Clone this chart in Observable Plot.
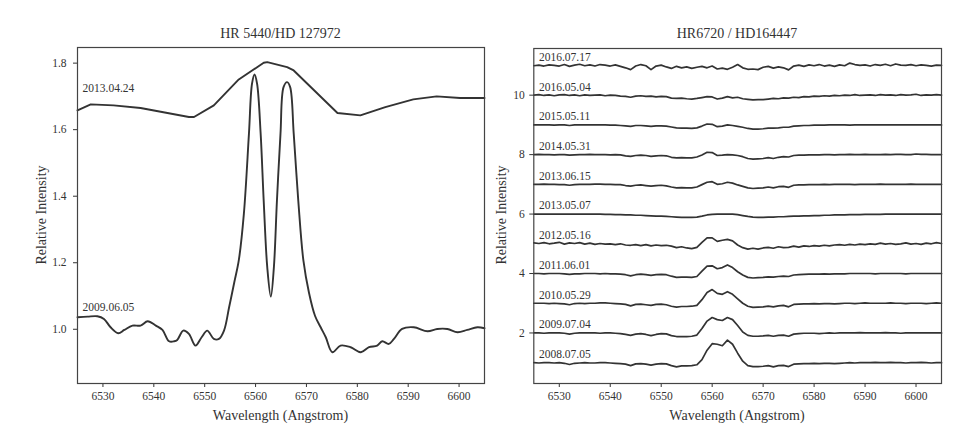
<!DOCTYPE html>
<html><head><meta charset="utf-8">
<script src="https://cdn.jsdelivr.net/npm/d3@7"></script>
<script src="https://cdn.jsdelivr.net/npm/@observablehq/plot@0.6"></script>
<style>
body{margin:0;background:#fff;}
#wrap{position:relative;width:971px;height:442px;font-family:"Liberation Serif","DejaVu Serif",serif;color:#333;}
.abs{position:absolute;white-space:nowrap;line-height:1;}
.panel{position:absolute;top:0;}
</style></head><body><div id="wrap"></div>
<script>
// ---------- shared ----------
const xTicks = [6530, 6540, 6550, 6560, 6570, 6580, 6590, 6600];
const xLabel = "Wavelength (Angstrom)";
const yLabel = "Relative Intensity";

// ---------- left panel: HR 5440 / HD 127972 ----------
const leftTitle = "HR 5440/HD 127972";
const leftYTicks = [1.0, 1.2, 1.4, 1.6, 1.8];
const leftDates = ["2013.04.24", "2009.06.05"];
const leftLabelY = [1.724, 1.065];

const hr5440_20130424_wave = [6525, 6527.6, 6532.1, 6537.4, 6546.9, 6547.9, 6551.8, 6556.7, 6561.6, 6562.3, 6566.2, 6567.5, 6576.1, 6580.6, 6585.5, 6591, 6595.6, 6600.2, 6605];
const hr5440_20130424_flux = [1.658, 1.676, 1.673, 1.665, 1.638, 1.638, 1.673, 1.751, 1.801, 1.803, 1.788, 1.778, 1.650, 1.643, 1.668, 1.691, 1.700, 1.695, 1.695];

const hr5440_20090605_wave = [6525, 6527, 6528.9, 6530.2, 6531.5, 6533, 6534.2, 6535.8, 6537.4, 6538.8, 6540.4, 6541.7, 6543, 6544, 6544.6, 6545.8, 6546.9, 6548.2, 6549.4, 6550.5, 6551.8, 6552.8, 6553.8, 6554.8, 6555.8, 6556.7, 6557.7, 6558.7, 6559.3, 6559.8, 6560.3, 6561.0, 6561.6, 6562.3, 6563.0, 6563.6, 6564.2, 6564.9, 6565.5, 6566.2, 6566.8, 6567.5, 6568.4, 6569.4, 6570.5, 6571.7, 6572.8, 6573.8, 6575.1, 6576.7, 6578.7, 6580.7, 6582.3, 6583.9, 6584.9, 6586.2, 6587.2, 6588.8, 6591.1, 6593.8, 6595.7, 6597.7, 6599.7, 6601.6, 6603.6, 6605];
const hr5440_20090605_flux = [1.036, 1.038, 1.039, 1.031, 1.006, 0.988, 0.998, 1.011, 1.011, 1.024, 1.011, 0.998, 0.964, 0.964, 0.968, 0.996, 0.986, 0.951, 0.976, 0.996, 0.971, 0.971, 0.996, 1.066, 1.140, 1.207, 1.347, 1.588, 1.738, 1.766, 1.738, 1.588, 1.386, 1.186, 1.098, 1.186, 1.386, 1.588, 1.728, 1.743, 1.728, 1.588, 1.386, 1.207, 1.110, 1.040, 1.006, 0.976, 0.931, 0.951, 0.946, 0.931, 0.946, 0.951, 0.964, 0.956, 0.971, 1.001, 1.006, 0.994, 1.001, 1.001, 0.991, 0.998, 1.006, 1.003];

// ---------- right panel: HR6720 / HD164447 ----------
const rightTitle = "HR6720 / HD164447";
const rightYTicks = [2, 4, 6, 8, 10];
const rightWave = [
  6525,6526,6527,6528,6529,6530,6531,6532,6533,6534,
  6535,6536,6537,6538,6539,6540,6541,6542,6543,6544,
  6545,6546,6547,6548,6549,6550,6551,6552,6553,6554,
  6555,6556,6557,6558,6559,6560,6561,6562,6563,6564,
  6565,6566,6567,6568,6569,6570,6571,6572,6573,6574,
  6575,6576,6577,6578,6579,6580,6581,6582,6583,6584,
  6585,6586,6587,6588,6589,6590,6591,6592,6593,6594,
  6595,6596,6597,6598,6599,6600,6601,6602,6603,6604,
  6605];
const rightDates = ["2008.07.05","2009.07.04","2010.05.29","2011.06.01","2012.05.16","2013.05.07","2013.06.15","2014.05.31","2015.05.11","2016.05.04","2016.07.17"];
const rightOffsets = [0,1,2,3,4,5,6,7,8,9,10];

const f20080705 = [
  1.00,0.99,1.00,1.00,0.99,1.00,0.98,0.94,0.98,0.99,
  1.00,0.99,0.99,1.00,1.00,0.99,0.98,0.97,0.95,0.90,
  0.96,0.97,0.95,0.92,0.95,0.97,0.96,0.90,0.86,0.89,
  0.89,0.90,0.93,1.10,1.42,1.64,1.62,1.57,1.76,1.62,
  1.32,1.05,0.90,0.87,0.87,0.88,0.90,0.86,0.90,0.91,
  0.87,0.95,0.96,0.97,0.97,0.98,0.97,0.98,0.98,0.97,
  0.98,0.99,1.00,0.99,1.00,1.00,1.00,1.01,1.00,1.00,
  1.01,1.00,1.00,0.99,1.00,1.00,1.01,1.00,0.99,1.00,
  1.00];
const f20090704 = [
  1.00,1.00,0.99,1.00,1.00,1.00,0.99,0.96,0.99,1.00,
  1.00,1.00,1.00,0.99,1.00,1.00,0.99,0.98,0.95,0.92,
  0.96,0.98,0.95,0.91,0.95,0.98,0.97,0.91,0.88,0.88,
  0.88,0.89,0.93,1.15,1.40,1.52,1.45,1.42,1.52,1.45,
  1.25,1.03,0.92,0.89,0.89,0.90,0.92,0.89,0.92,0.93,
  0.89,0.96,0.98,0.99,0.99,0.99,0.98,0.99,1.00,0.99,
  1.00,1.00,1.00,1.00,1.01,1.00,1.00,1.00,1.00,1.01,
  1.00,1.00,0.99,1.00,1.00,1.00,1.00,1.00,1.00,1.00,
  1.00];
const f20100529 = [
  1.00,1.00,1.00,0.99,1.00,0.99,0.98,0.95,0.99,1.00,
  0.99,1.00,1.00,1.01,1.01,1.00,0.99,0.98,0.96,0.91,
  0.96,0.97,0.95,0.93,0.96,0.97,0.95,0.90,0.87,0.89,
  0.89,0.90,0.93,1.12,1.36,1.46,1.33,1.30,1.39,1.30,
  1.15,1.00,0.90,0.86,0.87,0.88,0.90,0.88,0.91,0.93,
  0.88,0.96,0.97,0.98,0.98,0.99,0.98,0.99,0.99,0.98,
  0.99,1.00,1.00,0.99,1.00,1.01,1.00,1.00,1.00,1.00,
  1.01,1.00,1.00,0.99,1.00,1.00,1.00,0.99,1.00,1.01,
  1.00];
const f20110601 = [
  1.00,1.00,0.99,1.00,1.00,1.00,0.99,0.97,0.99,0.99,
  1.00,1.00,1.00,0.99,1.00,0.99,0.99,0.98,0.96,0.92,
  0.96,0.98,0.96,0.94,0.96,0.97,0.96,0.91,0.87,0.88,
  0.88,0.87,0.90,1.08,1.25,1.26,1.16,1.20,1.29,1.20,
  1.06,0.95,0.87,0.85,0.86,0.87,0.89,0.88,0.90,0.91,
  0.90,0.95,0.96,0.97,0.98,0.98,0.98,0.99,0.98,0.99,
  0.99,0.99,1.00,1.00,1.00,1.00,1.00,0.99,1.00,1.00,
  1.00,1.00,1.00,0.99,1.00,1.00,1.00,1.00,1.00,1.00,
  1.00];
const f20120516 = [
  1.03,1.01,1.04,1.00,1.02,1.05,0.99,1.03,1.01,1.04,
  0.99,1.02,0.98,1.01,0.99,1.00,0.97,1.00,0.96,0.95,
  0.97,0.94,0.97,0.93,0.96,0.94,0.95,0.92,0.87,0.90,
  0.86,0.84,0.88,1.05,1.20,1.20,1.08,1.12,1.15,1.10,
  0.96,0.87,0.82,0.85,0.82,0.86,0.88,0.85,0.90,0.87,
  0.88,0.92,0.89,0.93,0.91,0.94,0.92,0.95,0.93,0.96,
  0.97,0.95,0.98,0.96,0.99,0.97,1.00,0.98,1.02,0.99,
  1.01,0.98,1.00,1.03,0.99,1.01,0.98,1.02,1.00,1.04,
  1.01];
const f20130507 = [
  1.00,1.00,1.00,1.00,1.00,1.00,1.00,1.00,1.00,1.00,
  1.00,1.00,1.00,1.00,0.99,0.99,0.98,0.98,0.97,0.97,
  0.96,0.96,0.95,0.94,0.93,0.93,0.92,0.91,0.90,0.89,
  0.89,0.89,0.90,0.93,0.97,0.99,1.00,1.00,1.00,1.00,
  0.98,0.95,0.92,0.90,0.89,0.89,0.90,0.90,0.91,0.91,
  0.92,0.93,0.93,0.94,0.94,0.95,0.95,0.96,0.96,0.97,
  0.97,0.97,0.98,0.98,0.98,0.99,0.99,0.99,0.99,1.00,
  1.00,1.00,1.00,1.00,1.00,1.00,1.00,1.00,1.00,1.00,
  1.00];
const f20130615 = [
  1.00,1.00,1.01,1.00,1.00,0.99,0.99,0.97,0.99,1.00,
  1.00,1.00,1.01,1.01,1.00,1.00,0.99,0.99,0.96,0.94,
  0.97,0.98,0.96,0.94,0.96,0.97,0.95,0.91,0.88,0.89,
  0.88,0.88,0.91,0.99,1.07,1.09,1.00,1.02,1.07,1.04,
  0.98,0.93,0.88,0.86,0.87,0.88,0.91,0.88,0.92,0.93,
  0.90,0.97,0.98,0.98,0.99,0.99,0.99,1.00,0.99,1.00,
  1.00,1.00,1.00,0.99,1.00,1.00,1.00,1.00,1.01,1.00,
  1.00,1.00,1.00,1.00,1.01,1.00,1.00,1.00,1.00,1.00,
  1.00];
const f20140531 = [
  1.00,1.01,1.00,1.00,0.99,1.00,1.00,0.98,0.99,1.00,
  1.00,1.01,1.00,1.00,1.00,0.99,1.00,0.99,0.96,0.94,
  0.97,0.98,0.97,0.94,0.96,0.97,0.96,0.91,0.89,0.90,
  0.89,0.89,0.92,0.99,1.08,1.07,0.97,0.98,1.00,0.99,
  0.97,0.93,0.87,0.85,0.86,0.87,0.90,0.87,0.91,0.93,
  0.92,0.97,0.98,0.98,0.99,0.99,0.99,1.00,1.00,0.99,
  1.00,1.00,1.01,1.00,1.00,1.01,1.00,1.00,1.00,1.01,
  1.00,1.01,1.01,1.00,1.00,1.02,1.01,1.01,1.00,1.00,
  1.00];
const f20150511 = [
  1.00,1.00,1.00,1.00,0.99,1.00,1.00,0.98,1.00,1.00,
  1.00,1.00,1.00,1.00,1.00,0.99,0.99,0.98,0.97,0.95,
  0.98,0.98,0.97,0.95,0.97,0.97,0.96,0.93,0.90,0.89,
  0.89,0.88,0.90,0.96,1.03,1.02,0.94,0.96,1.00,0.98,
  0.95,0.92,0.88,0.86,0.86,0.87,0.89,0.89,0.90,0.92,
  0.92,0.96,0.97,0.98,0.98,0.99,0.99,0.99,1.00,1.00,
  1.00,1.00,0.99,1.00,1.00,1.00,1.00,1.00,1.00,1.00,
  1.00,1.00,1.00,1.00,1.00,1.00,1.00,1.00,1.00,1.00,
  1.00];
const f20160504 = [
  1.00,1.02,0.99,1.01,0.98,1.01,1.02,0.99,1.01,0.98,
  1.01,0.99,1.00,1.01,0.98,1.00,0.99,0.97,0.96,0.93,
  0.97,0.98,0.96,0.97,0.94,0.96,0.95,0.90,0.89,0.90,
  0.88,0.87,0.89,0.92,0.95,0.94,0.87,0.90,0.95,0.91,
  0.93,0.88,0.86,0.84,0.85,0.85,0.87,0.89,0.88,0.91,
  0.90,0.93,0.92,0.95,0.94,0.97,0.96,0.98,0.97,0.99,
  0.98,1.00,0.99,1.02,0.99,1.00,1.01,0.99,1.02,1.00,
  1.01,0.99,1.02,1.00,1.01,1.03,0.99,1.01,1.00,1.02,
  1.00];
const f20160717 = [
  0.99,1.01,0.98,1.02,1.00,0.98,1.03,0.97,1.01,1.04,
  0.99,1.02,0.98,1.03,1.01,0.98,1.02,0.97,0.92,0.86,
  0.98,1.03,0.99,0.86,0.98,1.01,0.95,0.90,0.97,0.92,
  0.95,0.90,0.94,0.97,0.92,0.98,0.88,0.91,0.87,0.94,
  1.03,0.92,0.87,0.88,0.86,0.94,0.97,0.91,0.95,0.92,
  0.85,0.98,1.01,0.97,1.02,0.99,1.03,0.98,1.01,0.97,
  1.02,0.99,1.08,1.03,1.00,1.02,0.98,1.03,1.00,1.04,
  0.99,1.05,1.01,1.00,1.03,0.99,1.02,1.00,0.98,1.01,
  1.00];
const rightFlux = [f20080705, f20090704, f20100529, f20110601, f20120516, f20130507, f20130615, f20140531, f20150511, f20160504, f20160717];

// ---------- build tables ----------
const FONT = '"Liberation Serif","DejaVu Serif",serif';
const INK = "#333";
const leftRows2013 = hr5440_20130424_wave.map((w, i) => ({w, v: hr5440_20130424_flux[i]}));
const leftRows2009 = hr5440_20090605_wave.map((w, i) => ({w, v: hr5440_20090605_flux[i]}));
const leftLabels = leftDates.map((d, i) => ({text: d, w: 6526, v: leftLabelY[i]}));
const rightRows = rightDates.flatMap((d, k) => rightWave.map((w, i) => ({date: d, w, v: rightFlux[k][i] + rightOffsets[k]})));
const rightLabels = rightDates.map((d, k) => ({text: d, w: 6526, v: 1 + rightOffsets[k] + 0.28}));

const wrap = document.getElementById("wrap");
function addText(txt, x, y, size, rot) {
  const d = document.createElement("div");
  d.className = "abs";
  d.textContent = txt;
  d.style.left = x + "px";
  d.style.top = y + "px";
  d.style.fontSize = size + "px";
  d.style.transform = "translate(-50%,-50%)" + (rot ? " rotate(-90deg)" : "");
  wrap.appendChild(d);
}
const axisStyle = {fontFamily: FONT, fontSize: "11.5px", color: "#333", background: "transparent", overflow: "visible"};

const left = Plot.plot({
  width: 490, height: 442,
  marginLeft: 77, marginRight: 6, marginTop: 47, marginBottom: 59,
  style: axisStyle,
  x: {domain: [6525, 6605], ticks: xTicks, tickSize: 4, tickPadding: 4, label: null, tickFormat: d => String(d)},
  y: {domain: [0.837, 1.847], ticks: leftYTicks, tickSize: 4, tickPadding: 7, label: null, tickFormat: d3.format(".1f")},
  marks: [
    Plot.line(leftRows2013, {x: "w", y: "v", stroke: INK, strokeWidth: 1.9}),
    Plot.line(leftRows2009, {x: "w", y: "v", stroke: INK, strokeWidth: 1.9, curve: "catmull-rom"}),
    Plot.text(leftLabels, {x: "w", y: "v", text: "text", textAnchor: "start", fontSize: 11.5, fill: "#333"}),
    Plot.frame({stroke: "#444", strokeWidth: 1.2})
  ]
});
const lp = document.createElement("div"); lp.className = "panel"; lp.style.left = "0px";
lp.appendChild(left); wrap.appendChild(lp);

const right = Plot.plot({
  width: 481, height: 442,
  marginLeft: 43.3, marginRight: 30, marginTop: 48, marginBottom: 59,
  style: axisStyle,
  x: {domain: [6525, 6605], ticks: xTicks, tickSize: 4, tickPadding: 4, label: null, tickFormat: d => String(d)},
  y: {domain: [0.30, 11.57], ticks: rightYTicks, tickSize: 4, tickPadding: 5, label: null, tickFormat: d => String(d)},
  marks: [
    Plot.line(rightRows, {x: "w", y: "v", z: "date", stroke: INK, strokeWidth: 1.7}),
    Plot.text(rightLabels, {x: "w", y: "v", text: "text", textAnchor: "start", fontSize: 11.5, fill: "#333"}),
    Plot.frame({stroke: "#444", strokeWidth: 1.2})
  ]
});
const rp = document.createElement("div"); rp.className = "panel"; rp.style.left = "490px";
rp.appendChild(right); wrap.appendChild(rp);

addText(leftTitle, 280.5, 34, 14);
addText(rightTitle, 737, 34, 14);
addText(xLabel, 280.5, 416, 14);
addText(xLabel, 737, 416, 14);
addText(yLabel, 42, 215, 14, true);
addText(yLabel, 502, 215, 14, true);
</script></body></html>
